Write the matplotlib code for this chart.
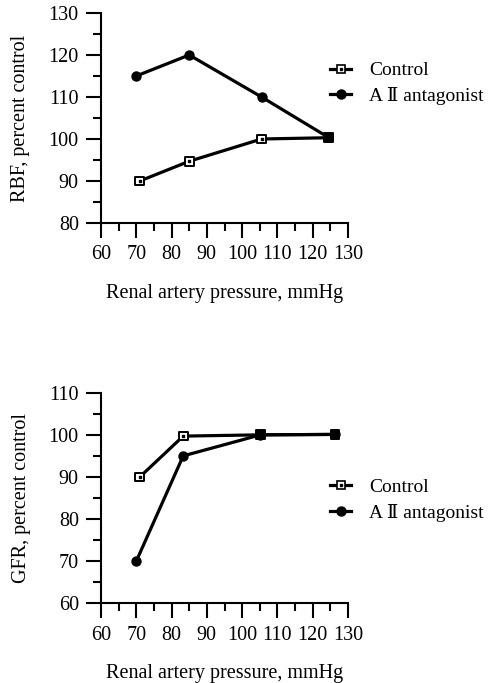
import matplotlib
matplotlib.use("Agg")
import matplotlib.pyplot as plt
import numpy as np
from matplotlib.legend_handler import HandlerTuple

# data
rbf_ctrl_x = [71, 85, 105.5, 124.4]
rbf_ctrl_y = [90, 94.7, 100, 100.3]
rbf_a2_x = [70, 85, 105.5, 124.4]
rbf_a2_y = [115, 120, 110, 100.4]

gfr_ctrl_x = [71, 83.3, 105.2, 126.3]
gfr_ctrl_y = [90, 99.7, 100, 100.1]
gfr_a2_x = [70, 83.3, 105.2, 126.3]
gfr_a2_y = [70, 95, 100, 100.1]

xticks = [60, 70, 80, 90, 100, 110, 120, 130]
rbf_yticks = [80, 90, 100, 110, 120, 130]
gfr_yticks = [60, 70, 80, 90, 100, 110]

xlabel = 'Renal artery pressure, mmHg'
labels = ['Control', 'A \u2161 antagonist']

plt.rcParams['font.family'] = ['Liberation Serif', 'DejaVu Serif']

fig = plt.figure(figsize=(5, 6.83), dpi=100)


def panel(ax, cx, cy, ax2, ay, yticks, ylabel, leg_y):
    ax.plot(cx, cy, color='black', lw=2.3, zorder=2)
    ax.plot(ax2, ay, color='black', lw=2.3, zorder=2)
    # points where both series coincide show as solid squares
    same = np.isclose(cx, ax2, atol=0.5) & np.isclose(cy, ay, atol=1.0)
    face = ['black' if s else 'white' for s in same]
    ax.scatter(ax2, ay, marker='o', s=42, color='black', zorder=3)
    ax.scatter(cx, cy, marker='s', s=40, facecolors=face,
               edgecolors='black', linewidths=1.4, zorder=4)
    dots = np.array(cx)[~same], np.array(cy)[~same]
    ax.scatter(dots[0], dots[1], marker='s', s=3, color='black', zorder=5)

    ax.set_xlim(xticks[0], xticks[-1])
    ax.set_ylim(yticks[0], yticks[-1])
    ax.set_xticks(xticks)
    ax.set_yticks(yticks)
    ax.set_xticks(np.arange(65, 130, 10), minor=True)
    ax.set_yticks(np.arange(yticks[0] + 5, yticks[-1], 10), minor=True)
    ax.tick_params(which='major', length=11, width=1.5, labelsize=14.5,
                   direction='out', pad=5)
    ax.tick_params(which='minor', length=5.5, width=1.5, direction='out')
    ax.spines['top'].set_visible(False)
    ax.spines['right'].set_visible(False)
    for s in ['left', 'bottom']:
        ax.spines[s].set_linewidth(1.5)
    ax.set_xlabel(xlabel, fontsize=14.5, labelpad=14)
    ax.set_ylabel(ylabel, fontsize=14.5, labelpad=13)

    h_ctrl_line, = ax.plot([], [], color='black', lw=2.3, marker='s', ms=5.5,
                           mfc='white', mec='black', mew=1.2)
    h_ctrl_dot, = ax.plot([], [], ls='none', marker='s', ms=1.5, color='black')
    h_a2, = ax.plot([], [], color='black', lw=2.3, marker='o', ms=6.5)
    ax.legend([(h_ctrl_line, h_ctrl_dot), h_a2], labels,
              handler_map={tuple: HandlerTuple(ndivide=1, pad=0)},
              loc='center left', bbox_to_anchor=(0.927, leg_y),
              frameon=False, fontsize=14, handlelength=1.1,
              handletextpad=0.9, labelspacing=0.4, borderaxespad=0,
              borderpad=0)


ax1 = fig.add_axes([0.202, 0.6735, 0.494, 0.3075])
panel(ax1, rbf_ctrl_x, rbf_ctrl_y, rbf_a2_x, rbf_a2_y, rbf_yticks,
      'RBF, percent control', 0.664)

ax2 = fig.add_axes([0.202, 0.1167, 0.494, 0.3083])
panel(ax2, gfr_ctrl_x, gfr_ctrl_y, gfr_a2_x, gfr_a2_y, gfr_yticks,
      'GFR, percent control', 0.49)

fig.savefig('out.png', dpi=100)
